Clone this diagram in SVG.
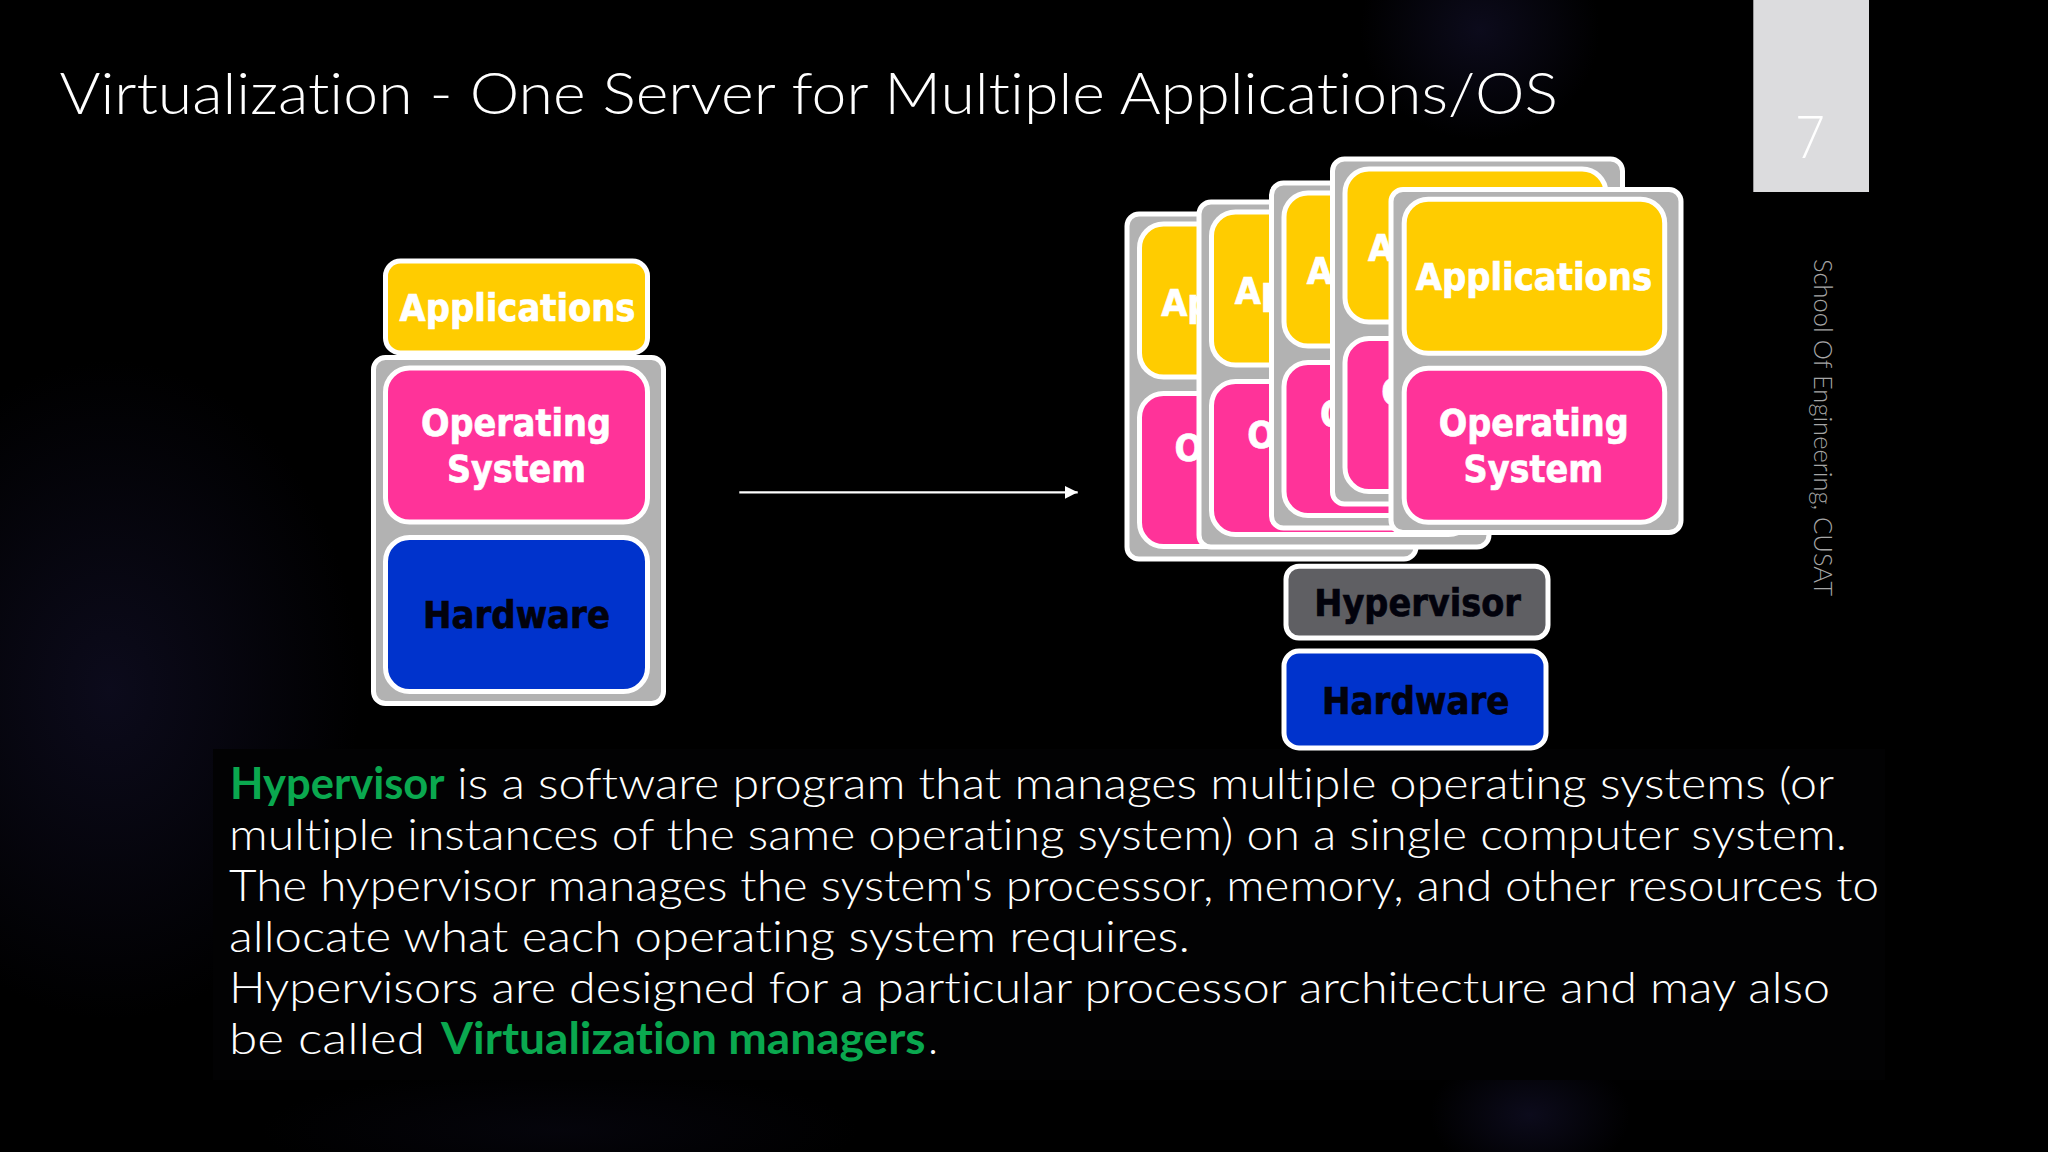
<svg xmlns="http://www.w3.org/2000/svg" width="2048" height="1152" viewBox="0 0 2048 1152">
<style>
text{font-variant-ligatures:none}
.frame{fill:#b2b2b2;stroke:#fff;stroke-width:5}
.app{fill:#ffcc00;stroke:#fff;stroke-width:5}
.os{fill:#ff3399;stroke:#fff;stroke-width:5}
.hw{fill:#0033cc;stroke:#fff;stroke-width:5}
.hv{fill:#5f5f63;stroke:#fff;stroke-width:5}
.b{font-family:"DejaVu Sans",sans-serif;font-weight:700;font-size:37px;stroke-width:0.7}
.w{fill:#fff;stroke:#fff}
.k{fill:#02020c;stroke:#02020c}
.t{font-family:"Lato","Liberation Sans",sans-serif;font-weight:300;fill:#fff}
.body{font-size:43px}
.g{font-family:"Lato","Liberation Sans",sans-serif;font-weight:700;font-size:43px;fill:#0aa84f}
</style>
<defs>
<radialGradient id="blob"><stop offset="0" stop-color="#14122e" stop-opacity="0.6"/><stop offset="1" stop-color="#14122e" stop-opacity="0"/></radialGradient>
<marker id="ah" markerUnits="userSpaceOnUse" markerWidth="13" markerHeight="14" refX="13" refY="7" orient="auto"><path d="M0,0.5 L13,7 L0,13.5 Z" fill="#fff"/></marker>
</defs>
<rect width="2048" height="1152" fill="#000"/>
<ellipse cx="1480" cy="30" rx="120" ry="110" fill="url(#blob)"/>
<ellipse cx="1530" cy="1115" rx="100" ry="65" fill="url(#blob)"/>
<ellipse cx="110" cy="690" rx="250" ry="330" fill="url(#blob)"/>
<ellipse cx="560" cy="1130" rx="300" ry="60" fill="url(#blob)" opacity="0.4"/>
<rect x="213" y="749" width="1672" height="331" fill="#020203"/>

<text class="t" x="59.4" y="114" font-size="58" textLength="1498.6" lengthAdjust="spacingAndGlyphs">Virtualization - One Server for Multiple Applications/OS</text>

<g id="page-number">
<rect x="1753.3" y="0" width="115.7" height="192" fill="#dcdcde"/>
<text class="t" x="1795" y="158" font-size="60" textLength="30" lengthAdjust="spacingAndGlyphs">7</text>
</g>
<text class="t" transform="translate(1814,259) rotate(90)" font-size="25.5" textLength="337" lengthAdjust="spacingAndGlyphs" style="fill:#a6a6a6">School Of Engineering, CUSAT</text>

<g id="connectors">
<line x1="739.3" y1="492.3" x2="1077.7" y2="492.3" stroke="#fff" stroke-width="2.2" marker-end="url(#ah)"/>
</g>

<g id="left-frame"><rect class="frame" x="373.5" y="357.5" width="290" height="346" rx="12"/></g>
<g id="left-applications"><rect class="app" x="385.5" y="261" width="262" height="92" rx="15"/>
<text class="b w" x="399.5" y="321" textLength="236" lengthAdjust="spacingAndGlyphs">Applications</text></g>
<g id="left-os"><rect class="os" x="385.5" y="368" width="262" height="154" rx="24"/>
<text class="b w" x="421" y="436" textLength="190" lengthAdjust="spacingAndGlyphs">Operating</text>
<text class="b w" x="447" y="482" textLength="139" lengthAdjust="spacingAndGlyphs">System</text></g>
<g id="left-hardware"><rect class="hw" x="385.5" y="537.5" width="262" height="154" rx="24"/>
<text class="b k" x="423" y="628" textLength="187" lengthAdjust="spacingAndGlyphs">Hardware</text></g>

<g id="vm-1">
<rect class="frame" x="1127" y="214" width="289" height="345" rx="12"/>
<rect class="app" x="1139.5" y="224" width="261" height="153" rx="24"/>
<rect class="os" x="1139.5" y="393.5" width="261" height="153" rx="24"/>
<text class="b w" x="1161.2" y="316" textLength="50.4" lengthAdjust="spacingAndGlyphs">Ap</text>
<text class="b w" x="1174.6" y="461" textLength="28.5" lengthAdjust="spacingAndGlyphs">O</text>
</g>
<g id="vm-2">
<rect class="frame" x="1199" y="202" width="290" height="345" rx="12"/>
<rect class="app" x="1211.5" y="212" width="261" height="153" rx="24"/>
<rect class="os" x="1211.5" y="381.5" width="261" height="153" rx="24"/>
<text class="b w" x="1234.7" y="304" textLength="50.4" lengthAdjust="spacingAndGlyphs">Ap</text>
<text class="b w" x="1247.3" y="448.4" textLength="28.5" lengthAdjust="spacingAndGlyphs">O</text>
</g>
<g id="vm-3">
<rect class="frame" x="1271.5" y="183" width="290" height="345" rx="12"/>
<rect class="app" x="1284" y="193" width="261" height="153" rx="24"/>
<rect class="os" x="1284" y="362.5" width="261" height="153" rx="24"/>
<text class="b w" x="1306.7" y="284.3" textLength="26.2" lengthAdjust="spacingAndGlyphs">A</text>
<text class="b w" x="1320" y="426.7" textLength="28.5" lengthAdjust="spacingAndGlyphs">O</text>
</g>
<g id="vm-4">
<rect class="frame" x="1332.5" y="159" width="290" height="345" rx="12"/>
<rect class="app" x="1345" y="169" width="261" height="153" rx="24"/>
<rect class="os" x="1345" y="338.5" width="261" height="153" rx="24"/>
<text class="b w" x="1367.9" y="260.6" textLength="26.2" lengthAdjust="spacingAndGlyphs">A</text>
<text class="b w" x="1381.3" y="405" textLength="28.5" lengthAdjust="spacingAndGlyphs">O</text>
</g>
<g id="vm-5">
<rect class="frame" x="1391" y="189.5" width="290" height="343" rx="12"/>
<rect class="app" x="1404.2" y="199.2" width="260.5" height="154" rx="24"/>
<rect class="os" x="1404.2" y="368.2" width="260.5" height="154" rx="24"/>
<text class="b w" x="1415.7" y="290" textLength="236.5" lengthAdjust="spacingAndGlyphs">Applications</text>
<text class="b w" x="1438.7" y="435.6" textLength="190" lengthAdjust="spacingAndGlyphs">Operating</text>
<text class="b w" x="1463.6" y="482" textLength="139.7" lengthAdjust="spacingAndGlyphs">System</text>
</g>
<g id="hypervisor"><rect class="hv" x="1286" y="566.2" width="262" height="71.8" rx="13"/>
<text class="b k" x="1314.3" y="615.5" textLength="206.6" lengthAdjust="spacingAndGlyphs">Hypervisor</text></g>
<g id="right-hardware"><rect class="hw" x="1284" y="651" width="262" height="97" rx="15"/>
<text class="b k" x="1322" y="714" textLength="187.5" lengthAdjust="spacingAndGlyphs">Hardware</text></g>

<g id="description">
<text class="g" x="230" y="799" textLength="214.6" lengthAdjust="spacingAndGlyphs">Hypervisor</text>
<text class="t body" x="457" y="799" textLength="1377" lengthAdjust="spacingAndGlyphs">is a software program that manages multiple operating systems (or</text>
<text class="t body" x="229" y="850" textLength="1618" lengthAdjust="spacingAndGlyphs">multiple instances of the same operating system) on a single computer system.</text>
<text class="t body" x="229" y="901" textLength="1650" lengthAdjust="spacingAndGlyphs">The hypervisor manages the system's processor, memory, and other resources to</text>
<text class="t body" x="229" y="952.3" textLength="961" lengthAdjust="spacingAndGlyphs">allocate what each operating system requires.</text>
<text class="t body" x="229" y="1003.3" textLength="1601" lengthAdjust="spacingAndGlyphs">Hypervisors are designed for a particular processor architecture and may also</text>
<text class="t body" x="229" y="1054.3" textLength="196" lengthAdjust="spacingAndGlyphs">be called</text>
<text class="g" x="441" y="1054.3" textLength="484.5" lengthAdjust="spacingAndGlyphs">Virtualization managers</text>
<text class="t body" x="928" y="1054.3">.</text>
</g>
</svg>
